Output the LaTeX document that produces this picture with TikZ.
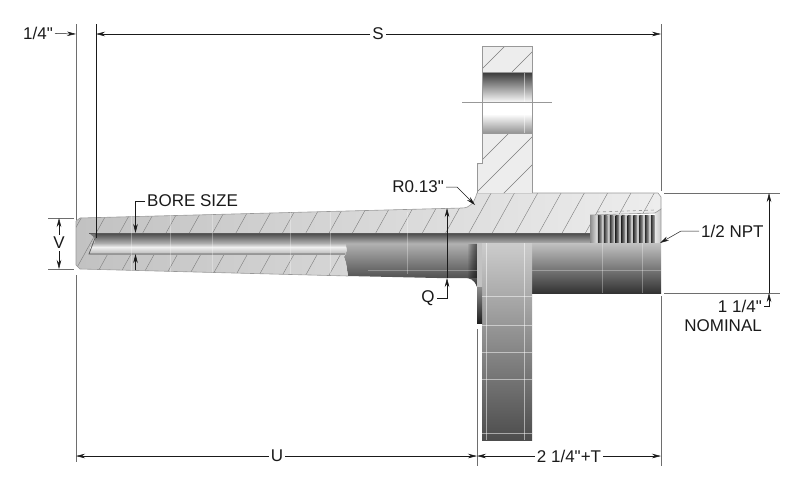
\documentclass[tikz,border=0pt]{standalone}
\usepackage{fontspec}
\newfontfamily\labelfont{Liberation Sans}
\usetikzlibrary{arrows.meta}
\definecolor{inkc}{HTML}{1A1A1A}
\definecolor{extc}{HTML}{6E6E6E}
\definecolor{edgec}{HTML}{989898}
\definecolor{hatchc}{HTML}{7C7C7C}
\begin{document}
\begin{tikzpicture}[x=1pt, y=-1pt, >={Stealth[length=9pt,width=4.5pt]},
	label/.style = {text=inkc, font=\labelfont\fontsize{17}{19}\selectfont, inner sep=2pt},
	dim/.style = {draw=inkc, line width=0.5pt},
	ext/.style = {draw=extc, line width=0.9pt},
	edge/.style = {draw=edgec, line width=0.6pt},
	hatch/.style = {draw=hatchc, line width=0.4pt},
	mesh/.style = {draw=white, line width=0.5pt, opacity=0.3}]
	\useasboundingbox (0,0) rectangle (800,482);

	% lower half, outside surface
	\shade[top color=black!30, bottom color=black!78] (345,243) -- (477,243) -- (477,287) .. controls (474,279) and (470,278) .. (464,278) -- (437,278) -- (348,276) -- (346,263) -- (344,257) -- (347,250) -- cycle;
	\foreach \i in {0,...,8}
		\fill[black, opacity=0.07] ({468+\i},243) rectangle (477,278);

	% cut section of the body
	\shade[left color=black!24, right color=black!7] (76,221) -- (80,218) -- (462,208) .. controls (470,208) and (474,203) .. (477,193) -- (658,193) -- (661,197) -- (661,209) -- (655,213) -- (590,215) -- (590,243) -- (345,243) -- (347,250) -- (344,257) -- (346,263) -- (348,276) -- (80,269) -- (76,265) -- cycle;
	\begin{scope}
		\clip (76,221) -- (80,218) -- (462,208) .. controls (470,208) and (474,203) .. (477,193) -- (658,193) -- (661,197) -- (661,209) -- (655,213) -- (590,215) -- (590,243) -- (345,243) -- (347,250) -- (344,257) -- (346,263) -- (348,276) -- (80,269) -- (76,265) -- cycle;
		\foreach \k in {-1,...,27}
			\draw[hatch] ({49.5+23.3*\k},275) -- ({49.5+23.3*\k+50},185);
	\end{scope}
	\draw[edge] (76,221) -- (80,218) -- (462,208) .. controls (470,208) and (474,203) .. (477,193) -- (658,193) -- (661,197) -- (661,209);
	\draw[edge] (76,221) -- (76,265) -- (80,269) -- (348,276);

	% bore
	\shade[top color=black!72, bottom color=black!32] (95,233) rectangle (590,243);
	\fill[black!55] (89,233) -- (95,233) -- (95,238) -- cycle;
	\shade[top color=black!32, bottom color=black!6] (92,243) rectangle (346,247);
	\shade[top color=black!6, bottom color=black!28] (90,247) rectangle (346,254);
	\draw[draw=black!65, line width=0.7pt] (89,233) -- (590,233);
	\draw[draw=black!65, line width=0.7pt] (95,238) -- (89,254) -- (345,254);

	% thread
	\shade[left color=black!45, right color=black!12] (590,215) rectangle (597,243);
	\fill[black!22] (597,215) rectangle (655,243);
	\foreach \k in {0,...,9}
		\shade[left color=black!80, right color=black!35] ({598+5.9*\k},215) rectangle ({601.5+5.9*\k},243);
	\shade[left color=black!10, right color=black!22] (655,213) -- (661,209) -- (661,243) -- (655,243) -- cycle;
	\draw[edge, dashed] (597,212) -- (655,210);
	\draw[edge] (590,215) -- (655,213) -- (661,209) -- (661,243);

	% hub on the right
	\shade[top color=black!24, bottom color=black!80] (532,243) rectangle (661,293);
	\foreach \xv in {602,642}
		\draw[mesh] (\xv,243) -- (\xv,293);
	\draw[mesh] (532,270) -- (661,270);

	% flange, outside and cut parts
	\shade[top color=black!20, bottom color=black!70] (482,243) rectangle (532,440);
	\shade[top color=black!45, bottom color=black!88] (477,287) rectangle (482,323);
	\fill[black!24] (477,243) rectangle (482,287);
	\foreach \xv in {486,524}
		\draw[mesh, opacity=0.5] (\xv,243) -- (\xv,440);
	\foreach \yv in {296,325,352,379,433}
		\draw[mesh, opacity=0.5] (482,\yv) -- (532,\yv);

	\fill[black!7] (482,46) rectangle (532,72);
	\fill[black!7] (482,133) -- (532,133) -- (532,193) -- (477,193) -- (477,163) -- (482,163) -- cycle;
	\begin{scope}
		\clip (482,46) rectangle (532,72) (482,133) -- (532,133) -- (532,193) -- (477,193) -- (477,163) -- (482,163) -- cycle;
		\foreach \s in {551,584,642,669,697}
			\draw[hatch] ({\s-300},300) -- (\s,0);
	\end{scope}
	\shade[top color=black!78, bottom color=white] (482,72) rectangle (532,103);
	\fill[white] (482,103) rectangle (532,114);
	\shade[top color=white, bottom color=black!42] (482,114) rectangle (532,133);
	\draw[mesh, opacity=0.5] (524,72) -- (524,133);
	\draw[edge] (482,72) -- (482,46) -- (532,46) -- (532,72);
	\draw[edge] (482,133) -- (482,163) -- (477,163) -- (477,193);
	\draw[edge] (532,133) -- (532,193);
	\draw[edge] (482,72) rectangle (532,133);
	\draw[edge] (462,102.5) -- (552,102.5);

	% mesh lines on the body
	\foreach \xv in {131,170,212,290,330,407,447}
		\draw[mesh] (\xv,212) -- (\xv,274);
	\draw[mesh] (368,270) -- (477,270);

	% witness lines
	\coordinate (wa1) at (76,24);
	\coordinate (wa2) at (76,220);
	\coordinate (wa3) at (76,275);
	\coordinate (wa4) at (76,462);
	\coordinate (wb1) at (96,24);
	\coordinate (wb2) at (96,238);
	\coordinate (wc1) at (661,24);
	\coordinate (wc2) at (661,191);
	\coordinate (wc3) at (661,296);
	\coordinate (wc4) at (661,466);
	\coordinate (wd1) at (477,329);
	\coordinate (wd2) at (477,466);
	\coordinate (we1) at (48,218);
	\coordinate (we2) at (74,218);
	\coordinate (we3) at (48,269);
	\coordinate (we4) at (74,269);
	\coordinate (wf1) at (664,193);
	\coordinate (wf2) at (780,193);
	\coordinate (wf3) at (664,293);
	\coordinate (wf4) at (780,293);
	\draw[ext] (wa1) -- (wa2);
	\draw[ext] (wa3) -- (wa4);
	\draw[draw=inkc, line width=0.9pt] (wb1) -- (wb2);
	\draw[ext] (wc1) -- (wc2);
	\draw[ext] (wc3) -- (wc4);
	\draw[ext] (wd1) -- (wd2);
	\draw[ext] (we1) -- (we2);
	\draw[ext] (we3) -- (we4);
	\draw[ext] (wf1) -- (wf2);
	\draw[ext] (wf3) -- (wf4);

	% dimensions
	\node[label] (s) at (378,34) {S};
	\node[label, anchor=east] (quarter) at (55,33) {1/4"};
	\coordinate (sl) at (96,34);
	\coordinate (sr) at (661,34);
	\coordinate (ql) at (76,34);
	\draw[dim, ->] (s) -- (sl);
	\draw[dim, ->] (s) -- (sr);
	\draw[dim, ->] (quarter) -- (ql);

	\node[label] (v) at (59,243) {V};
	\coordinate (vt) at (59,218);
	\coordinate (vb) at (59,269);
	\draw[dim, ->] (v) -- (vt);
	\draw[dim, ->] (v) -- (vb);

	\node[label, anchor=west] (bore) at (145,201) {BORE SIZE};
	\coordinate (bh) at (135.5,201);
	\coordinate (bt) at (135.5,233);
	\coordinate (bu) at (135.5,254);
	\coordinate (bd) at (135.5,270);
	\draw[dim, ->] (bore) -- (bh) -- (bt);
	\draw[dim, ->] (bd) -- (bu);

	\node[label, anchor=east] (r) at (446,187) {R0.13"};
	\coordinate (rk) at (457,187);
	\coordinate (rt) at (475,205);
	\draw[dim, ->] (r) -- (rk) -- (rt);

	\node[label] (q) at (428,298) {Q};
	\coordinate (qk) at (447,298);
	\coordinate (qt) at (447,208);
	\coordinate (qb) at (447,278);
	\draw[dim, ->] (q) -- (qk) -- (qb);
	\draw[dim, ->] (qb) -- (qt);

	\node[label, anchor=west] (npt) at (699,231) {1/2 NPT};
	\coordinate (nk) at (681,231);
	\coordinate (nt) at (660,243);
	\draw[dim, ->] (npt) -- (nk) -- (nt);

	\node[label, anchor=east] (oneq) at (764,306) {1 1/4"};
	\node[label, anchor=east] (nominal) at (764,326) {NOMINAL};
	\coordinate (ok) at (769,306);
	\coordinate (ob) at (769,293);
	\coordinate (ot) at (769,193);
	\draw[dim, ->] (oneq) -- (ok) -- (ob);
	\draw[dim, ->] (ob) -- (ot);

	\node[label] (u) at (277,456) {U};
	\coordinate (ul) at (76,456);
	\coordinate (um) at (477,456);
	\coordinate (tr) at (661,456);
	\draw[dim, ->] (u) -- (ul);
	\draw[dim, ->] (u) -- (um);
	\node[label] (t) at (569,456) {2 1/4"+T};
	\draw[dim, ->] (t) -- (um);
	\draw[dim, ->] (t) -- (tr);
\end{tikzpicture}
\end{document}
